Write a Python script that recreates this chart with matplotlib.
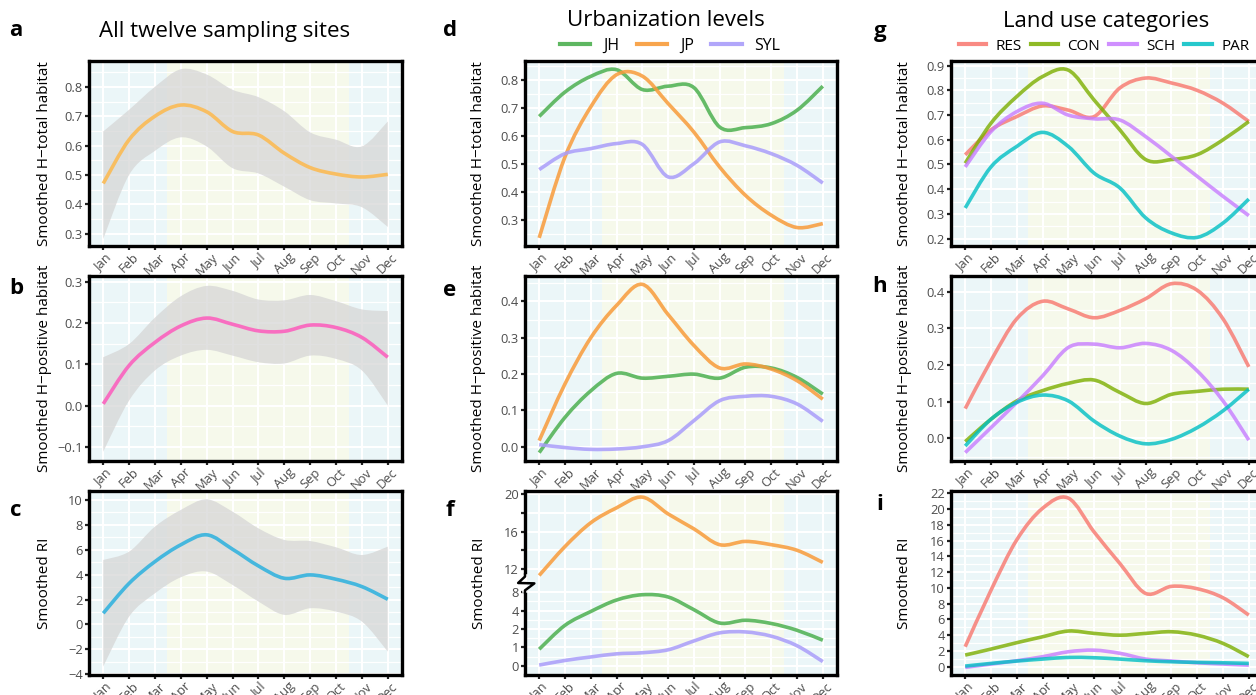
import numpy as np
import matplotlib.pyplot as plt
from matplotlib.path import Path
from matplotlib.patches import PathPatch
from matplotlib.lines import Line2D
from matplotlib.transforms import blended_transform_factory
from matplotlib.ticker import MultipleLocator, FixedLocator, FuncFormatter

plt.rcParams['font.family'] = ['Open Sans', 'DejaVu Sans']

months = ['Jan', 'Feb', 'Mar', 'Apr', 'May', 'Jun',
          'Jul', 'Aug', 'Sep', 'Oct', 'Nov', 'Dec']

# all twelve sites (line, upper and lower band)
all_total = [0.471, 0.62, 0.70, 0.738, 0.715, 0.648, 0.636, 0.574, 0.525, 0.503, 0.493, 0.502]
all_total_hi = [0.648, 0.722, 0.80, 0.86, 0.842, 0.79, 0.765, 0.717, 0.645, 0.62, 0.597, 0.682]
all_total_lo = [0.282, 0.50, 0.582, 0.628, 0.597, 0.523, 0.505, 0.46, 0.414, 0.403, 0.39, 0.323]
all_pos = [0.004, 0.097, 0.153, 0.193, 0.212, 0.197, 0.181, 0.18, 0.195, 0.189, 0.165, 0.117]
all_pos_hi = [0.117, 0.149, 0.213, 0.265, 0.29, 0.278, 0.257, 0.255, 0.268, 0.253, 0.233, 0.229]
all_pos_lo = [-0.112, 0.012, 0.085, 0.121, 0.135, 0.121, 0.105, 0.102, 0.121, 0.113, 0.085, 0.0]
all_ri = [0.9, 3.3, 5.05, 6.4, 7.2, 6.04, 4.7, 3.71, 3.98, 3.63, 3.04, 2.02]
all_ri_hi = [5.18, 5.85, 7.86, 9.2, 10.05, 9.06, 7.72, 6.79, 6.7, 6.2, 5.58, 6.25]
all_ri_lo = [-3.38, 0.63, 2.5, 3.79, 4.25, 3.17, 1.84, 0.77, 1.3, 1.03, 0.23, -2.18]

# urbanization levels
urban = ['JH', 'JP', 'SYL']
jh_total = [0.671, 0.758, 0.814, 0.838, 0.767, 0.779, 0.774, 0.633, 0.631, 0.645, 0.693, 0.779]
jp_total = [0.237, 0.526, 0.705, 0.82, 0.815, 0.717, 0.615, 0.49, 0.389, 0.318, 0.274, 0.288]
syl_total = [0.481, 0.538, 0.556, 0.574, 0.571, 0.455, 0.502, 0.58, 0.566, 0.538, 0.496, 0.433]
jh_pos = [-0.016, 0.081, 0.154, 0.202, 0.189, 0.194, 0.2, 0.189, 0.219, 0.217, 0.191, 0.145]
jp_pos = [0.017, 0.173, 0.30, 0.389, 0.447, 0.364, 0.279, 0.217, 0.228, 0.214, 0.182, 0.131]
syl_pos = [0.006, -0.002, -0.007, -0.006, 0.0, 0.017, 0.072, 0.127, 0.139, 0.139, 0.118, 0.07]
jh_ri = [0.9, 2.4, 3.9, 6.3, 7.45, 6.96, 4.2, 2.65, 2.95, 2.6, 1.93, 1.39]
jp_ri = [11.3, 14.4, 16.95, 18.55, 19.7, 17.9, 16.3, 14.6, 14.95, 14.6, 14.0, 12.7]
syl_ri = [0.04, 0.29, 0.48, 0.65, 0.71, 0.87, 1.35, 1.79, 1.84, 1.61, 1.09, 0.23]

# land use categories
landuse = ['RES', 'CON', 'SCH', 'PAR']
res_total = [0.539, 0.64, 0.694, 0.737, 0.72, 0.694, 0.81, 0.85, 0.83, 0.80, 0.748, 0.674]
con_total = [0.505, 0.667, 0.775, 0.856, 0.882, 0.761, 0.64, 0.52, 0.52, 0.54, 0.60, 0.674]
sch_total = [0.49, 0.633, 0.714, 0.748, 0.70, 0.685, 0.68, 0.613, 0.533, 0.452, 0.371, 0.293]
par_total = [0.324, 0.49, 0.573, 0.63, 0.573, 0.465, 0.405, 0.284, 0.223, 0.205, 0.263, 0.36]
res_pos = [0.081, 0.212, 0.326, 0.374, 0.353, 0.329, 0.349, 0.381, 0.422, 0.404, 0.326, 0.195]
con_pos = [-0.009, 0.052, 0.102, 0.13, 0.15, 0.159, 0.125, 0.095, 0.12, 0.128, 0.134, 0.134]
sch_pos = [-0.039, 0.029, 0.098, 0.17, 0.248, 0.257, 0.247, 0.259, 0.24, 0.184, 0.102, -0.005]
par_pos = [-0.021, 0.052, 0.098, 0.118, 0.102, 0.047, 0.006, -0.015, -0.003, 0.029, 0.075, 0.134]
res_ri = [2.54, 9.7, 16.1, 20.1, 21.4, 17.1, 13.1, 9.3, 10.2, 9.9, 8.75, 6.55]
con_ri = [1.48, 2.24, 3.05, 3.8, 4.53, 4.23, 4.0, 4.23, 4.44, 4.0, 2.96, 1.27]
sch_ri = [-0.08, 0.34, 0.76, 1.27, 1.9, 2.1, 1.7, 0.97, 0.72, 0.5, 0.34, 0.2]
par_ri = [0.08, 0.42, 0.72, 0.97, 1.18, 1.14, 0.97, 0.76, 0.63, 0.55, 0.5, 0.42]

urban_colors = ['#4CB050', '#F89B3A', '#A99DFA']
land_colors = ['#F8766D', '#7CAE00', '#C77CFF', '#00BFC4']
BLUE_BG = '#EBF6F8'
YELLOW_BG = '#F6F9EB'
TICK_GREY = '#4D4D4D'

W, H = 1256, 695
x = np.arange(12)


def smooth(xs, ys):
    # catmull-rom as cubic bezier segments
    pts = np.column_stack([xs, ys]).astype(float)
    n = len(pts)
    verts = [pts[0]]
    codes = [Path.MOVETO]
    for i in range(n - 1):
        p0 = pts[max(i - 1, 0)]
        p1 = pts[i]
        p2 = pts[i + 1]
        p3 = pts[min(i + 2, n - 1)]
        verts += [p1 + (p2 - p0) / 6, p2 - (p3 - p1) / 6, p2]
        codes += [Path.CURVE4] * 3
    return verts, codes


def draw_line(ax, ys, color, alpha=0.85):
    v, c = smooth(x, ys)
    ax.add_patch(PathPatch(Path(v, c), fill=False, edgecolor=color,
                           lw=2.6, alpha=alpha, zorder=4, capstyle='butt'))


def draw_band(ax, lo, hi):
    vh, ch = smooth(x, hi)
    vl, cl = smooth(x[::-1], np.asarray(lo)[::-1])
    verts = vh + vl + [vh[0]]
    codes = ch + [Path.LINETO] + cl[1:] + [Path.CLOSEPOLY]
    ax.add_patch(PathPatch(Path(verts, codes), facecolor='#D6D6D6',
                           edgecolor='none', alpha=0.75, zorder=3))


def make_axes(fig, left, top, right, bottom):
    return fig.add_axes([left / W, 1 - bottom / H, (right - left) / W, (bottom - top) / H])


def fmt_dec(v, pos):
    return f'{v:.1f}'.replace('-', '\u2212')


def fmt_int(v, pos):
    return f'{v:.0f}'.replace('-', '\u2212')


def style(ax, ylim, ylabel, major=None, minor=None, fmt=None, labx=-0.118):
    ax.set_xlim(-0.55, 11.55)
    ax.set_ylim(*ylim)
    ax.axvspan(-1, 2.45, color=BLUE_BG, lw=0, zorder=0)
    ax.axvspan(2.45, 9.5, color=YELLOW_BG, lw=0, zorder=0)
    ax.axvspan(9.5, 13, color=BLUE_BG, lw=0, zorder=0)
    ax.set_xticks(x)
    ax.set_xticklabels(months, rotation=45, ha='center', va='top')
    if major is not None:
        ax.yaxis.set_major_locator(MultipleLocator(major))
        ax.yaxis.set_minor_locator(MultipleLocator(minor))
        ax.yaxis.set_major_formatter(FuncFormatter(fmt))
    ax.tick_params(axis='both', which='major', length=3, width=1.6,
                   color='#222222', labelcolor=TICK_GREY, labelsize=9.3, pad=1.5)
    ax.tick_params(axis='y', which='minor', length=0)
    ax.tick_params(axis='x', labelsize=9.3, pad=0.5)
    ax.grid(True, which='major', color='white', lw=1.5, zorder=1)
    ax.grid(True, which='minor', axis='y', color='white', lw=0.9, zorder=1)
    ax.set_axisbelow(True)
    for s in ax.spines.values():
        s.set_linewidth(2.4)
        s.set_color('black')
        s.set_zorder(6)
    ax.set_ylabel(ylabel, fontsize=11, color='black')
    ax.yaxis.set_label_coords(labx, 0.5)


fig = plt.figure(figsize=(W / 100, H / 100), dpi=100)

cols = [(89, 402), (525, 837), (951, 1263)]
rows = [(61, 246), (276, 461), (491, 675)]

# column 1
ax_a = make_axes(fig, cols[0][0], rows[0][0], cols[0][1], rows[0][1])
style(ax_a, (0.258, 0.888), 'Smoothed H\u2212total habitat', 0.1, 0.05, fmt_dec, -0.117)
draw_band(ax_a, all_total_lo, all_total_hi)
draw_line(ax_a, all_total, '#FBBB55', 0.9)

ax_b = make_axes(fig, cols[0][0], rows[1][0], cols[0][1], rows[1][1])
style(ax_b, (-0.1345, 0.314), 'Smoothed H\u2212positive habitat', 0.1, 0.05, fmt_dec, -0.117)
draw_band(ax_b, all_pos_lo, all_pos_hi)
draw_line(ax_b, all_pos, '#FB62BE', 0.9)

ax_c = make_axes(fig, cols[0][0], rows[2][0], cols[0][1], rows[2][1])
style(ax_c, (-4.06, 10.72), 'Smoothed RI', 2, 1, fmt_int, -0.117)
draw_band(ax_c, all_ri_lo, all_ri_hi)
draw_line(ax_c, all_ri, '#35B3DE', 0.9)

# column 2
ax_d = make_axes(fig, cols[1][0], rows[0][0], cols[1][1], rows[0][1])
style(ax_d, (0.208, 0.869), 'Smoothed H\u2212total habitat', 0.1, 0.05, fmt_dec, -0.125)
for ys, col in zip([jh_total, jp_total, syl_total], urban_colors):
    draw_line(ax_d, ys, col)

ax_e = make_axes(fig, cols[1][0], rows[1][0], cols[1][1], rows[1][1])
style(ax_e, (-0.039, 0.47), 'Smoothed H\u2212positive habitat', 0.1, 0.05, fmt_dec, -0.125)
for ys, col in zip([jh_pos, jp_pos, syl_pos], urban_colors):
    draw_line(ax_e, ys, col)

# panel f: broken axis, lower part stretched, upper part linear
low_vals = [0, 1, 2, 4, 8]
low_pos = [0, 1, 2, 3, 4]
up_base, up_slope = 5.265, 0.5068


def f_low(v):
    return np.interp(v, low_vals, low_pos)


def f_up(v):
    return up_base + (np.asarray(v) - 12) * up_slope


ax_f = make_axes(fig, cols[1][0], rows[2][0], cols[1][1], rows[2][1])
style(ax_f, (-0.5, 9.5), 'Smoothed RI', labx=-0.122)
f_ticks = list(low_pos) + list(f_up([12, 14, 16, 18, 20]))
f_labels = ['0', '1', '2', '4', '8', '12', '', '16', '', '20']
ax_f.yaxis.set_major_locator(FixedLocator(f_ticks))
ax_f.set_yticklabels(f_labels)
ax_f.yaxis.set_minor_locator(FixedLocator([0.5, 1.5, 2.5, 3.5]))
draw_line(ax_f, f_low(jh_ri), urban_colors[0])
draw_line(ax_f, f_up(jp_ri), urban_colors[1])
draw_line(ax_f, f_low(syl_ri), urban_colors[2])
tr = blended_transform_factory(ax_f.transAxes, ax_f.transData)
ax_f.add_line(Line2D([0, 0], [4.1, 4.85], color='white', lw=4, transform=tr,
                     clip_on=False, zorder=7))
ax_f.add_line(Line2D([0, 0.0, -0.022, 0.03, 0.0, 0.0], [4.95, 4.85, 4.5, 4.48, 4.1, 4.0],
                     color='black', lw=1.8, transform=tr, clip_on=False, zorder=8))

# column 3
ax_g = make_axes(fig, cols[2][0], rows[0][0], cols[2][1], rows[0][1])
style(ax_g, (0.17, 0.919), 'Smoothed H\u2212total habitat', 0.1, 0.05, fmt_dec, -0.125)
for ys, col in zip([res_total, con_total, sch_total, par_total], land_colors):
    draw_line(ax_g, ys, col, 0.8)

ax_h = make_axes(fig, cols[2][0], rows[1][0], cols[2][1], rows[1][1])
style(ax_h, (-0.062, 0.443), 'Smoothed H\u2212positive habitat', 0.1, 0.05, fmt_dec, -0.125)
for ys, col in zip([res_pos, con_pos, sch_pos, par_pos], land_colors):
    draw_line(ax_h, ys, col, 0.8)

ax_i = make_axes(fig, cols[2][0], rows[2][0], cols[2][1], rows[2][1])
style(ax_i, (-1.05, 22.3), 'Smoothed RI', 2, 1, fmt_int, -0.125)
for ys, col in zip([res_ri, con_ri, sch_ri, par_ri], land_colors):
    draw_line(ax_i, ys, col, 0.8)

# titles, legends and panel letters
fig.text(225 / W, 1 - 31 / H, 'All twelve sampling sites', fontsize=16, ha='center', va='center')
fig.text(666 / W, 1 - 20 / H, 'Urbanization levels', fontsize=16, ha='center', va='center')
fig.text(1106 / W, 1 - 21 / H, 'Land use categories', fontsize=16, ha='center', va='center')

h_urban = [Line2D([], [], color=c, lw=3, alpha=0.9) for c in urban_colors]
fig.legend(h_urban, urban, loc='center', bbox_to_anchor=(670 / W, 1 - 46 / H), ncol=3,
           frameon=False, fontsize=11.5, handlelength=1.9, handletextpad=0.8,
           columnspacing=1.1, borderpad=0)
h_land = [Line2D([], [], color=c, lw=3, alpha=0.85) for c in land_colors]
fig.legend(h_land, landuse, loc='center', bbox_to_anchor=(1104 / W, 1 - 46 / H), ncol=4,
           frameon=False, fontsize=11, handlelength=1.8, handletextpad=0.6,
           columnspacing=0.6, borderpad=0)

letters = [('a', 16, 30), ('b', 16, 288), ('c', 16, 510), ('d', 450, 30), ('e', 450, 290),
           ('f', 450, 510), ('g', 880, 32), ('h', 880, 287), ('i', 880, 505)]
for s, lx, ly in letters:
    fig.text(lx / W, 1 - ly / H, s, fontsize=16, fontweight='bold', ha='center', va='center')

fig.savefig('out.png', dpi=100)
